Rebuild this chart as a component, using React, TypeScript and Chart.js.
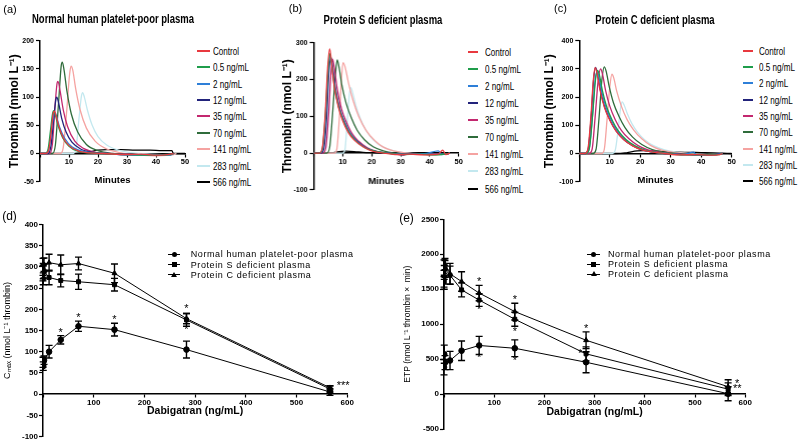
import React, { useEffect, useRef } from 'react';
import { Chart, registerables } from 'chart.js';

Chart.register(...registerables);

const SANS = "'Liberation Sans', Arial, sans-serif";

const concLabels = ['Control', '0.5 ng/mL', '2 ng/mL', '12 ng/mL', '35 ng/mL', '70 ng/mL', '141 ng/mL', '283 ng/mL', '566 ng/mL'];
const concColors = ['#e8393f', '#1f9d4b', '#2e7fd8', '#22237b', '#c3286f', '#2f6c3b', '#f5a3a1', '#c3e8ef', '#000000'];

// thrombin generation curves: [minutes, thrombin nmol/L], one per concentration
const normalCurves = [
  [[0, 0], [2, 0], [3, 6], [3.8, 35], [4.6, 72], [5, 75], [5.6, 66], [6.5, 48], [8, 28], [10, 14], [13, 5], [17, 1], [22, 0], [30, -2], [35, -1], [40, -3], [44, -2], [46, 0]],
  [[0, 0], [1.8, 0], [2.8, 8], [3.6, 40], [4.3, 70], [4.7, 76], [5.3, 68], [6.3, 48], [7.8, 28], [10, 13], [13, 4], [17, 1], [22, 0], [30, -2], [38, -3], [45, -2], [46, 0]],
  [[0, 0], [2.2, 0], [3.2, 10], [4, 42], [4.8, 70], [5.2, 73], [5.8, 64], [6.8, 46], [8.5, 27], [11, 12], [14, 5], [18, 1], [23, 0], [31, -3], [39, -2], [45, -3], [46, 0]],
  [[0, 0], [2.8, 0], [3.8, 14], [4.7, 60], [5.5, 97], [5.8, 100], [6.4, 90], [7.5, 62], [9, 38], [11, 20], [14, 8], [18, 2], [23, 0], [32, -2], [40, -2], [45, -1], [46, 0]],
  [[0, 0], [3.3, 0], [4.3, 18], [5.2, 85], [5.9, 125], [6.2, 128], [6.9, 112], [8, 78], [9.5, 48], [12, 22], [15, 9], [19, 2], [24, 0], [33, -2], [41, -3], [45, -2], [46, 0]],
  [[0, 0], [4.3, 0], [5.3, 15], [6.4, 90], [7.3, 155], [7.7, 162], [8.3, 148], [9.3, 110], [10.8, 70], [13, 38], [16, 16], [20, 5], [25, 0], [34, -2], [42, -2], [46, 0]],
  [[0, 0], [7, 0], [8, 10], [9.2, 75], [10.2, 140], [10.7, 155], [11.3, 148], [12.3, 115], [13.8, 78], [16, 45], [19, 22], [23, 8], [27, 2], [32, -2], [40, -4], [46, -2], [47, 0]],
  [[0, 0], [11.5, 0], [12.5, 12], [13.5, 65], [14.3, 102], [14.7, 108], [15.3, 100], [16.3, 78], [18, 50], [20, 30], [23, 15], [27, 6], [32, 1], [38, -1], [46, -2], [47, 0]],
  [[0, 0], [10, 0], [14, 1], [17, 3], [20, 6], [23, 7], [28, 7], [33, 6], [38, 6], [42, 5], [45.5, 5], [46, 0], [50, 0]],
];

const proteinSCurves = [
  [[0, 0], [2, 0], [3, 15], [4, 110], [4.8, 230], [5.5, 283], [6.1, 250], [7, 185], [8.5, 125], [10, 88], [12, 55], [14, 35], [17, 17], [20, 6], [24, 0], [28, -4], [33, -3], [38, -5], [43, -3], [44.5, 8], [45.5, -4], [47, 0]],
  [[0, 0], [2, 0], [3, 12], [4, 100], [4.9, 220], [5.6, 270], [6.2, 240], [7.2, 178], [8.7, 122], [10.3, 86], [12.3, 54], [14.5, 33], [17.5, 15], [21, 5], [25, 0], [30, -4], [36, -3], [42, -5], [46, -2], [47, 0]],
  [[0, 0], [2.2, 0], [3.2, 14], [4.2, 105], [5, 220], [5.7, 265], [6.3, 238], [7.3, 178], [8.8, 122], [10.5, 86], [12.5, 54], [14.7, 33], [17.7, 15], [21, 5], [25, 0], [31, -3], [38, -2], [43, 6], [44, -4], [46, -2], [47, 0]],
  [[0, 0], [2.5, 0], [3.5, 12], [4.5, 100], [5.2, 215], [5.9, 260], [6.5, 235], [7.5, 175], [9, 120], [10.7, 84], [12.7, 52], [15, 32], [18, 14], [21.5, 4], [25, 0], [32, -3], [40, -3], [46, -2], [47, 0]],
  [[0, 0], [3.2, 0], [4.2, 15], [5.2, 110], [5.9, 210], [6.5, 255], [7.1, 232], [8.1, 175], [9.6, 120], [11.3, 84], [13.3, 52], [15.5, 32], [18.5, 14], [22, 4], [26, 0], [31, -6], [33, -2], [40, -4], [46, -3], [47, 0]],
  [[0, 0], [4.5, 0], [5.5, 15], [6.5, 105], [7.4, 205], [8.1, 253], [8.7, 235], [9.7, 185], [11.2, 135], [13, 95], [15, 62], [17.5, 36], [20.5, 17], [24, 6], [28, 0], [35, -3], [42, -4], [46, -2], [47, 0]],
  [[0, 0], [7.2, 0], [8, 12], [8.8, 90], [9.5, 190], [10.1, 246], [10.8, 235], [12, 190], [13.5, 145], [15.5, 100], [18, 62], [21, 34], [24, 16], [28, 5], [32, 0], [38, -4], [46, -3], [47, 0]],
  [[0, 0], [10, 0], [10.8, 10], [11.6, 90], [12.3, 160], [12.8, 178], [13.4, 165], [14.5, 130], [16, 95], [18, 62], [20.5, 36], [23.5, 18], [27, 7], [31, 1], [36, -2], [46, -2], [47, 0]],
  [[0, 0], [6, 0], [8, 3], [11, 5], [14, 4], [17, 2], [20, 1], [25, 0], [35, 0], [47, 0]],
];

const proteinCCurves = [
  [[0, 0], [1.8, 0], [2.8, 15], [3.8, 130], [4.6, 260], [5.2, 304], [5.8, 285], [6.8, 225], [8.2, 165], [10, 118], [12, 80], [14.5, 50], [17.5, 27], [20.5, 13], [24, 5], [28, 0], [33, -5], [38, -4], [43, -6], [46, -4], [47, 0]],
  [[0, 0], [2.2, 0], [3.3, 18], [4.4, 140], [5.3, 260], [6, 295], [6.6, 278], [7.6, 222], [9, 165], [10.8, 118], [12.8, 80], [15.3, 50], [18.3, 27], [21.5, 12], [25, 4], [29, 0], [35, -5], [41, -5], [46, -4], [47, 0]],
  [[0, 0], [2.1, 0], [3.2, 15], [4.3, 130], [5.1, 250], [5.8, 290], [6.4, 272], [7.4, 218], [8.8, 162], [10.6, 116], [12.6, 78], [15.1, 49], [18.1, 26], [21.3, 12], [25, 4], [29, 0], [34, -4], [37.5, 5], [38.5, -6], [44, -5], [47, 0]],
  [[0, 0], [1.9, 0], [2.9, 15], [3.9, 130], [4.7, 262], [5.3, 305], [5.9, 286], [6.9, 226], [8.3, 166], [10.1, 118], [12.1, 80], [14.6, 50], [17.6, 27], [20.6, 13], [24, 5], [28, 0], [34, -4], [42, -5], [47, 0]],
  [[0, 0], [3.2, 0], [4.2, 15], [5.2, 130], [6.2, 260], [7, 300], [7.6, 282], [8.6, 225], [10, 168], [11.8, 120], [13.8, 82], [16.3, 52], [19.3, 28], [22.5, 13], [26, 5], [30, 0], [36, -4], [44, -5], [47, 0]],
  [[0, 0], [4.5, 0], [5.5, 15], [6.5, 130], [7.4, 260], [8.2, 307], [8.8, 292], [9.8, 238], [11.2, 180], [13, 132], [15, 92], [17.5, 58], [20.5, 32], [24, 14], [28, 5], [32, 0], [40, -4], [47, 0]],
  [[0, 0], [7.3, 0], [8.2, 15], [9.1, 120], [10, 235], [10.7, 281], [11.3, 268], [12.3, 220], [13.8, 168], [15.6, 122], [17.8, 84], [20.5, 52], [23.5, 28], [27, 12], [31, 4], [35, 0], [42, -4], [47, 0]],
  [[0, 0], [10.8, 0], [11.8, 12], [12.8, 90], [13.6, 165], [14.1, 183], [14.7, 172], [15.8, 140], [17.3, 105], [19.2, 74], [21.5, 48], [24.5, 27], [28, 13], [32, 5], [36, 0], [42, -3], [47, 0]],
  [[0, 0], [12, 0], [15, 2], [17, 6], [19, 9], [21, 10], [24, 9], [28, 7], [32, 5], [36, 4], [40, 3], [44, 2], [47, 1], [50, 0]],
];

// dose response (mean, sd)
const doses = [0, 0.5, 2, 12, 35, 70, 141, 283, 566];
const groupLabels = ['Normal human platelet-poor plasma', 'Protein S deficient plasma', 'Protein C deficient plasma'];
const groupMarkers = ['circle', 'rect', 'triangle'];

const cmaxNormal = [75, 66, 80, 100, 128, 160, 152, 105, 5];
const cmaxNormalSd = [12, 10, 10, 15, 10, 12, 15, 20, 8];
const cmaxProteinS = [285, 272, 290, 275, 268, 265, 258, 175, 12];
const cmaxProteinSSd = [18, 14, 16, 17, 15, 18, 15, 15, 7];
const cmaxProteinC = [300, 290, 305, 310, 305, 308, 285, 178, 15];
const cmaxProteinCSd = [20, 18, 16, 20, 23, 15, 22, 12, 5];

const etpNormal = [385, 570, 450, 480, 620, 695, 655, 455, 5];
const etpNormalSd = [110, 130, 100, 130, 140, 130, 120, 150, 100];
const etpProteinS = [1650, 1600, 1790, 1700, 1490, 1345, 1070, 575, 70];
const etpProteinSSd = [120, 100, 120, 130, 100, 90, 100, 100, 90];
const etpProteinC = [1800, 1740, 1860, 1720, 1610, 1445, 1180, 770, 105];
const etpProteinCSd = [120, 100, 80, 150, 140, 110, 120, 120, 100];

const cmaxStars = [
  { x: 35, y: 145, text: '*' }, { x: 70, y: 180, text: '*' }, { x: 141, y: 176, text: '*' },
  { x: 283, y: 200, text: '*' }, { x: 283, y: 152, text: '*' }, { x: 592, y: 19, text: '***' },
];
const etpStars = [
  { x: 70, y: 1609, text: '*' }, { x: 70, y: 1204, text: '*' }, { x: 70, y: 514, text: '*' },
  { x: 141, y: 1347, text: '*' }, { x: 141, y: 894, text: '*' }, { x: 141, y: 476, text: '*' },
  { x: 283, y: 928, text: '*' }, { x: 271, y: 571, text: '*' },
  { x: 584, y: 143, text: '*' }, { x: 584, y: 71, text: '**' },
];

const errorBarPlugin = {
  id: 'errorBars',
  afterDatasetsDraw(chart: any) {
    const { ctx } = chart;
    const xs = chart.scales.x;
    const ys = chart.scales.y;
    chart.data.datasets.forEach((ds: any) => {
      if (!ds.errors) return;
      ctx.save();
      ctx.strokeStyle = '#000';
      ctx.lineWidth = 1.4;
      ds.data.forEach((p: any, j: number) => {
        const e = ds.errors[j];
        const px = xs.getPixelForValue(p.x);
        const top = ys.getPixelForValue(p.y + e);
        const bot = ys.getPixelForValue(p.y - e);
        ctx.beginPath();
        ctx.moveTo(px, top);
        ctx.lineTo(px, bot);
        ctx.moveTo(px - 3.5, top);
        ctx.lineTo(px + 3.5, top);
        ctx.moveTo(px - 3.5, bot);
        ctx.lineTo(px + 3.5, bot);
        ctx.stroke();
      });
      ctx.restore();
    });
  },
};

const starPlugin = {
  id: 'stars',
  afterDatasetsDraw(chart: any, _args: any, opts: any) {
    if (!opts.items) return;
    const { ctx } = chart;
    ctx.save();
    ctx.fillStyle = '#000';
    ctx.font = `11px ${SANS}`;
    ctx.textAlign = 'center';
    ctx.textBaseline = 'middle';
    opts.items.forEach((s: any) => {
      ctx.fillText(s.text, chart.scales.x.getPixelForValue(s.x), chart.scales.y.getPixelForValue(s.y));
    });
    ctx.restore();
  },
};

interface Box {
  padT: number;
  padR: number;
  padB: number;
  yW: number;
  yTitlePad: number;
  xTitleH: number;
}

const plainNumber = (v: number) => String(v);

function axisCommon(tickLen: number) {
  return {
    grid: { display: true, drawOnChartArea: false, drawTicks: true, tickLength: tickLen, tickColor: '#000', tickWidth: 1.2 },
    border: { display: true, color: '#000', width: 1.5 },
  };
}

function curveConfig(curves: number[][][], yMin: number, yMax: number, yStep: number, box: Box): any {
  return {
    type: 'line',
    data: {
      datasets: curves.map((c, i) => ({
        label: concLabels[i],
        data: c.map(([x, y]) => ({ x, y })),
        borderColor: concColors[i],
        borderWidth: 1.3,
        pointRadius: 0,
        cubicInterpolationMode: 'monotone',
        fill: false,
      })),
    },
    options: {
      animation: false,
      responsive: true,
      maintainAspectRatio: false,
      layout: { padding: { top: box.padT, right: box.padR, bottom: box.padB, left: 0 } },
      plugins: { legend: { display: false }, tooltip: { enabled: false } },
      scales: {
        x: {
          type: 'linear',
          position: { y: 0 },
          min: 0,
          max: 50,
          ...axisCommon(3),
          ticks: {
            stepSize: 10,
            autoSkip: false,
            maxRotation: 0,
            padding: 1,
            color: '#000',
            font: { family: SANS, size: 7.5, weight: 'bold' },
            callback: (v: number) => (v === 0 ? '' : plainNumber(v)),
          },
          title: { display: true, text: 'Minutes', color: '#000', padding: 0, font: { family: SANS, size: 9.5, weight: 'bold' } },
          afterFit: (s: any) => { s.height = box.xTitleH; },
        },
        y: {
          type: 'linear',
          min: yMin,
          max: yMax,
          ...axisCommon(4),
          ticks: { stepSize: yStep, padding: 2, color: '#000', font: { family: SANS, size: 7, weight: 'bold' }, callback: plainNumber },
          title: { display: true, text: 'Thrombin (nmol L⁻¹)', color: '#000', padding: { top: box.yTitlePad, bottom: 0 }, font: { family: SANS, size: 12, weight: 'bold' } },
          afterFit: (s: any) => { s.width = box.yW; },
        },
      },
    },
  };
}

function doseConfig(series: number[][], sds: number[][], yMin: number, yMax: number, yStep: number, yTitle: string, yTitleSize: number, stars: any[], box: Box): any {
  return {
    type: 'line',
    data: {
      datasets: series.map((vals, i) => ({
        label: groupLabels[i],
        data: doses.map((d, j) => ({ x: d, y: vals[j] })),
        errors: sds[i],
        borderColor: '#000',
        backgroundColor: '#000',
        borderWidth: 1,
        pointStyle: groupMarkers[i],
        pointRadius: 2.8,
        tension: 0,
        fill: false,
      })),
    },
    plugins: [errorBarPlugin, starPlugin],
    options: {
      animation: false,
      responsive: true,
      maintainAspectRatio: false,
      layout: { padding: { top: box.padT, right: box.padR, bottom: box.padB, left: 0 } },
      plugins: { legend: { display: false }, tooltip: { enabled: false }, stars: { items: stars } },
      scales: {
        x: {
          type: 'linear',
          position: { y: 0 },
          min: 0,
          max: 600,
          ...axisCommon(3),
          ticks: {
            stepSize: 100,
            autoSkip: false,
            maxRotation: 0,
            padding: 1,
            color: '#000',
            font: { family: SANS, size: 8, weight: 'bold' },
            callback: (v: number) => (v === 0 ? '' : plainNumber(v)),
          },
          title: { display: true, text: 'Dabigatran (ng/mL)', color: '#000', padding: 0, font: { family: SANS, size: 10.5, weight: 'bold' } },
          afterFit: (s: any) => { s.height = box.xTitleH; },
        },
        y: {
          type: 'linear',
          min: yMin,
          max: yMax,
          ...axisCommon(4),
          ticks: { stepSize: yStep, padding: 1, color: '#000', font: { family: SANS, size: 8, weight: 'bold' }, callback: plainNumber },
          title: { display: true, text: yTitle, color: '#000', padding: { top: box.yTitlePad, bottom: 0 }, font: { family: SANS, size: yTitleSize } },
          afterFit: (s: any) => { s.width = box.yW; },
        },
      },
    },
  };
}

const ChartBox: React.FC<{ left: number; top: number; width: number; height: number; build: () => any }> = ({ left, top, width, height, build }) => {
  const canvasRef = useRef<HTMLCanvasElement | null>(null);
  useEffect(() => {
    if (!canvasRef.current) return;
    const chart = new Chart(canvasRef.current, build());
    return () => chart.destroy();
  }, []);
  return (
    <div style={{ position: 'absolute', left, top, width, height }}>
      <canvas ref={canvasRef} />
    </div>
  );
};

// centred text: a wide box around the centre point, squeezed horizontally like the original
const Label: React.FC<{ x: number; y: number; text: string; squeeze?: number; style?: React.CSSProperties }> = ({ x, y, text, squeeze = 1, style }) => (
  <div style={{ position: 'absolute', left: x - 150, top: y - 10, width: 300, height: 20, lineHeight: '20px', textAlign: 'center', whiteSpace: 'nowrap', color: '#000', transform: `scaleX(${squeeze})`, ...style }}>
    {text}
  </div>
);

const CurveLegend: React.FC<{ lineX: number; lineW: number; textX: number; rowY: number; gap: number }> = ({ lineX, lineW, textX, rowY, gap }) => (
  <>
    {concLabels.map((label, i) => (
      <React.Fragment key={label}>
        <div style={{ position: 'absolute', left: lineX, top: rowY + i * gap - 1, width: lineW, height: 2, background: concColors[i] }} />
        <div style={{ position: 'absolute', left: textX, top: rowY + i * gap - 7, height: 14, lineHeight: '14px', whiteSpace: 'nowrap', fontFamily: SANS, fontSize: 10.5, color: '#000', transform: 'scaleX(0.77)', transformOrigin: 'left center' }}>
          {label}
        </div>
      </React.Fragment>
    ))}
  </>
);

const Marker: React.FC<{ kind: string; cx: number; cy: number }> = ({ kind, cx, cy }) => {
  if (kind === 'triangle') {
    return <div style={{ position: 'absolute', left: cx - 3, top: cy - 3, width: 0, height: 0, borderLeft: '3px solid transparent', borderRight: '3px solid transparent', borderBottom: '5px solid #000' }} />;
  }
  return <div style={{ position: 'absolute', left: cx - 2.5, top: cy - 2.5, width: 5, height: 5, background: '#000', borderRadius: kind === 'circle' ? '50%' : 0 }} />;
};

const GroupLegend: React.FC<{ lineX: number; lineW: number; textX: number; rowY: number; gap: number }> = ({ lineX, lineW, textX, rowY, gap }) => (
  <>
    {groupLabels.map((label, i) => (
      <React.Fragment key={label}>
        <div style={{ position: 'absolute', left: lineX, top: rowY + i * gap - 0.5, width: lineW, height: 1, background: '#000' }} />
        <Marker kind={groupMarkers[i]} cx={lineX + lineW / 2} cy={rowY + i * gap} />
        <div style={{ position: 'absolute', left: textX, top: rowY + i * gap - 6, height: 12, lineHeight: '12px', whiteSpace: 'nowrap', fontFamily: SANS, fontSize: 9, letterSpacing: 0.6, color: '#000' }}>
          {label}
        </div>
      </React.Fragment>
    ))}
  </>
);

const panelLabel: React.CSSProperties = { fontFamily: SANS, fontSize: 11 };
const panelTitle: React.CSSProperties = { fontFamily: SANS, fontSize: 12.5, fontWeight: 'bold' };

export default function App() {
  return (
    <div style={{ position: 'fixed', left: 0, top: 0, width: 800, height: 440, overflow: 'hidden', background: '#fff' }}>
      <ChartBox left={0} top={0} width={195} height={192}
        build={() => curveConfig(normalCurves, -50, 200, 50, { padT: 40.7, padR: 10, padB: 10.3, yW: 40, yTitlePad: 7.5, xTitleH: 32.2 })} />
      <ChartBox left={275} top={0} width={190.7} height={200}
        build={() => curveConfig(proteinSCurves, -100, 300, 100, { padT: 42.7, padR: 8, padB: 10.2, yW: 38.5, yTitlePad: 5.8, xTitleH: 34.4 })} />
      <ChartBox left={540} top={0} width={200} height={192}
        build={() => curveConfig(proteinCCurves, -100, 400, 100, { padT: 40.7, padR: 8.3, padB: 10.3, yW: 39.3, yTitlePad: 2.5, xTitleH: 32.2 })} />
      <ChartBox left={0} top={200} width={358} height={246}
        build={() => doseConfig([cmaxNormal, cmaxProteinS, cmaxProteinC], [cmaxNormalSd, cmaxProteinSSd, cmaxProteinCSd], -100, 400, 50,
          'Cₘₐₓ (nmol L⁻¹ thrombin)', 9, cmaxStars, { padT: 24.5, padR: 10.8, padB: 9.5, yW: 43, yTitlePad: 2.6, xTitleH: 23.3 })} />
      <ChartBox left={400} top={200} width={356} height={240}
        build={() => doseConfig([etpNormal, etpProteinS, etpProteinC], [etpNormalSd, etpProteinSSd, etpProteinCSd], -500, 2500, 500,
          'ETP (nmol L⁻¹ thrombin ×  min)', 8.5, etpStars, { padT: 19.3, padR: 10.8, padB: 11, yW: 44, yTitlePad: 2.2, xTitleH: 24 })} />

      <Label x={10} y={8.5} text="(a)" style={panelLabel} />
      <Label x={295.5} y={8} text="(b)" style={panelLabel} />
      <Label x={560.5} y={7.5} text="(c)" style={panelLabel} />
      <Label x={9.5} y={216} text="(d)" style={{ ...panelLabel, fontSize: 12 }} />
      <Label x={406.5} y={218} text="(e)" style={{ ...panelLabel, fontSize: 12 }} />

      <Label x={112.5} y={19} text="Normal human platelet-poor plasma" squeeze={0.76} style={panelTitle} />
      <Label x={383} y={20} text="Protein S deficient plasma" squeeze={0.76} style={panelTitle} />
      <Label x={655} y={20} text="Protein C deficient plasma" squeeze={0.76} style={panelTitle} />

      <CurveLegend lineX={197} lineW={13} textX={213} rowY={50.7} gap={16.4} />
      <CurveLegend lineX={468} lineW={10} textX={485} rowY={51.7} gap={17.1} />
      <CurveLegend lineX={743} lineW={10} textX={759} rowY={50.7} gap={16.3} />

      <GroupLegend lineX={168} lineW={12} textX={190.7} rowY={254.3} gap={10.3} />
      <GroupLegend lineX={587} lineW={13} textX={608} rowY={254.3} gap={10} />
    </div>
  );
}
